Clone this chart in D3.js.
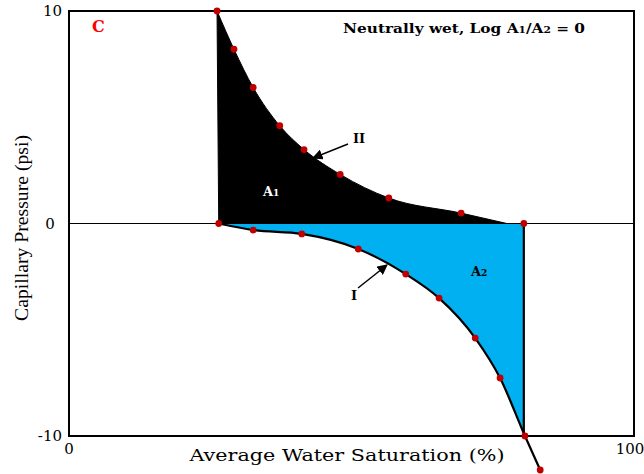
<!DOCTYPE html>
<html>
<head>
<meta charset="utf-8">
<script src="https://cdn.jsdelivr.net/npm/d3@7"></script>
<style>
  html, body { margin: 0; padding: 0; background: #fff; }
  svg { display: block; }
</style>
</head>
<body>
<svg id="chart" width="644" height="474"></svg>
<script>
// Drainage curve II (positive capillary pressure)
const swII = [26.2, 29.2, 32.6, 37.3, 41.6, 48.0, 56.6, 69.4];
const pcII = [10, 8.2, 6.4, 4.6, 3.48, 2.31, 1.2, 0.49];
// Where curve II meets the zero line
const swIIEnd = 77.5;
// Imbibition curve I (negative capillary pressure)
const swI = [26.5, 32.6, 41.2, 51.2, 59.6, 65.5, 71.9, 76.3, 80.7, 83.4];
const pcI = [0, -0.31, -0.49, -1.2, -2.38, -3.51, -5.39, -7.27, -10, -11.6];
// Saturation end points on the zero line
const swZero = [26.5, 80.5];
// Axis ticks
const xTicks = [0, 100];
const yTicks = [-10, 0, 10];

const svg = d3.select("#chart");
const mLeft = 69, mRight = 634, mTop = 11, mBottom = 436;

const x = d3.scaleLinear().domain([0, 100]).range([mLeft, mRight]);
const y = d3.scaleLinear().domain([-10, 10]).range([mBottom, mTop]);

const serif = "'DejaVu Serif', serif";

// Shaded area A1 (black)
const ptsII = swII.map((s, i) => [s, pcII[i]]);
const lineCurve = d3.line().x(d => x(d[0])).y(d => y(d[1])).curve(d3.curveMonotoneX);
svg.append("path")
  .attr("d", lineCurve([...ptsII, [swIIEnd, 0]]) + `L${x(swZero[0])},${y(0)}Z`)
  .attr("fill", "#000")
  .attr("stroke", "#000")
  .attr("stroke-width", 1);

// Shaded area A2 (blue)
const ptsI = swI.map((s, i) => [s, pcI[i]]);
const ptsIIn = ptsI.filter(p => p[1] >= -10);
svg.append("path")
  .attr("d", lineCurve(ptsIIn) + `L${x(swZero[1])},${y(-10)}L${x(swZero[1])},${y(0)}Z`)
  .attr("fill", "#00b0f0")
  .attr("stroke", "none");

// Zero line
svg.append("line")
  .attr("x1", x(0)).attr("x2", x(100))
  .attr("y1", y(0)).attr("y2", y(0))
  .attr("stroke", "#000").attr("stroke-width", 1.2);

// Right edge of A2
svg.append("line")
  .attr("x1", x(swZero[1])).attr("x2", x(swZero[1]))
  .attr("y1", y(0)).attr("y2", y(-10))
  .attr("stroke", "#000").attr("stroke-width", 2.2);

// Curve I
svg.append("path")
  .attr("d", lineCurve(ptsI))
  .attr("fill", "none")
  .attr("stroke", "#000")
  .attr("stroke-width", 2.2);

// Frame
svg.append("rect")
  .attr("x", mLeft).attr("y", mTop)
  .attr("width", mRight - mLeft).attr("height", mBottom - mTop)
  .attr("fill", "none").attr("stroke", "#000").attr("stroke-width", 2);

// Data points
const dots = [...ptsII, ...ptsI, [swZero[1], 0]];
svg.selectAll("circle.pt").data(dots).join("circle")
  .attr("class", "pt")
  .attr("cx", d => x(d[0])).attr("cy", d => y(d[1]))
  .attr("r", 3.4)
  .attr("fill", "#c00000");

// Tick labels
svg.selectAll("text.yt").data(yTicks).join("text")
  .attr("class", "yt")
  .attr("x", d => d === 0 ? 50 : 62)
  .attr("y", d => y(d) + 5)
  .attr("text-anchor", d => d === 0 ? "middle" : "end")
  .attr("font-family", serif).attr("font-size", 15)
  .text(d => d);
svg.selectAll("text.xt").data(xTicks).join("text")
  .attr("class", "xt")
  .attr("x", d => d === 0 ? x(d) : x(d) - 4)
  .attr("y", 454)
  .attr("text-anchor", "middle")
  .attr("font-family", serif).attr("font-size", 15)
  .text(d => d);

// Axis titles
svg.append("text")
  .attr("x", 347).attr("y", 461)
  .attr("text-anchor", "middle")
  .attr("font-family", serif).attr("font-size", 16.5)
  .attr("textLength", 315).attr("lengthAdjust", "spacingAndGlyphs")
  .text("Average Water Saturation (%)");
svg.append("text")
  .attr("transform", "translate(28,228) rotate(-90)")
  .attr("text-anchor", "middle")
  .attr("font-family", "'Liberation Serif', serif").attr("font-size", 18)
  .attr("textLength", 186).attr("lengthAdjust", "spacingAndGlyphs")
  .text("Capillary Pressure (psi)");

// Panel letter and title
svg.append("text")
  .attr("x", 92).attr("y", 32)
  .attr("font-family", serif).attr("font-weight", "bold").attr("font-size", 16)
  .attr("fill", "#ff0000")
  .text("C");
const title = svg.append("text")
  .attr("x", 343).attr("y", 33)
  .attr("font-family", serif).attr("font-weight", "bold").attr("font-size", 13)
  .attr("textLength", 242).attr("lengthAdjust", "spacingAndGlyphs");
title.append("tspan").text("Neutrally wet, Log A");
title.append("tspan").attr("font-size", 9).text("1");
title.append("tspan").text("/A");
title.append("tspan").attr("font-size", 9).text("2");
title.append("tspan").text(" = 0");

// Area labels
function areaLabel(xp, yp, sub, color) {
  const t = svg.append("text")
    .attr("x", xp).attr("y", yp)
    .attr("font-family", serif).attr("font-weight", "bold").attr("font-size", 13)
    .attr("fill", color);
  t.append("tspan").text("A");
  t.append("tspan").attr("font-size", 9).text(sub);
}
areaLabel(263, 196, "1", "#fff");
areaLabel(471, 276, "2", "#000");

// Curve labels with arrows
svg.append("defs").append("marker")
  .attr("id", "head").attr("viewBox", "0 0 10 10")
  .attr("refX", 9).attr("refY", 5)
  .attr("markerWidth", 7).attr("markerHeight", 7)
  .attr("orient", "auto")
  .append("path").attr("d", "M0,0L10,5L0,10Z").attr("fill", "#000");

svg.append("line")
  .attr("x1", 348).attr("y1", 144).attr("x2", 313).attr("y2", 158)
  .attr("stroke", "#000").attr("stroke-width", 1.5)
  .attr("marker-end", "url(#head)");
svg.append("text")
  .attr("x", 353).attr("y", 143)
  .attr("font-family", serif).attr("font-weight", "bold").attr("font-size", 13)
  .text("II");

svg.append("line")
  .attr("x1", 358).attr("y1", 288).attr("x2", 387).attr("y2", 265)
  .attr("stroke", "#000").attr("stroke-width", 1.5)
  .attr("marker-end", "url(#head)");
svg.append("text")
  .attr("x", 351).attr("y", 300)
  .attr("font-family", serif).attr("font-weight", "bold").attr("font-size", 13)
  .text("I");
</script>
</body>
</html>
